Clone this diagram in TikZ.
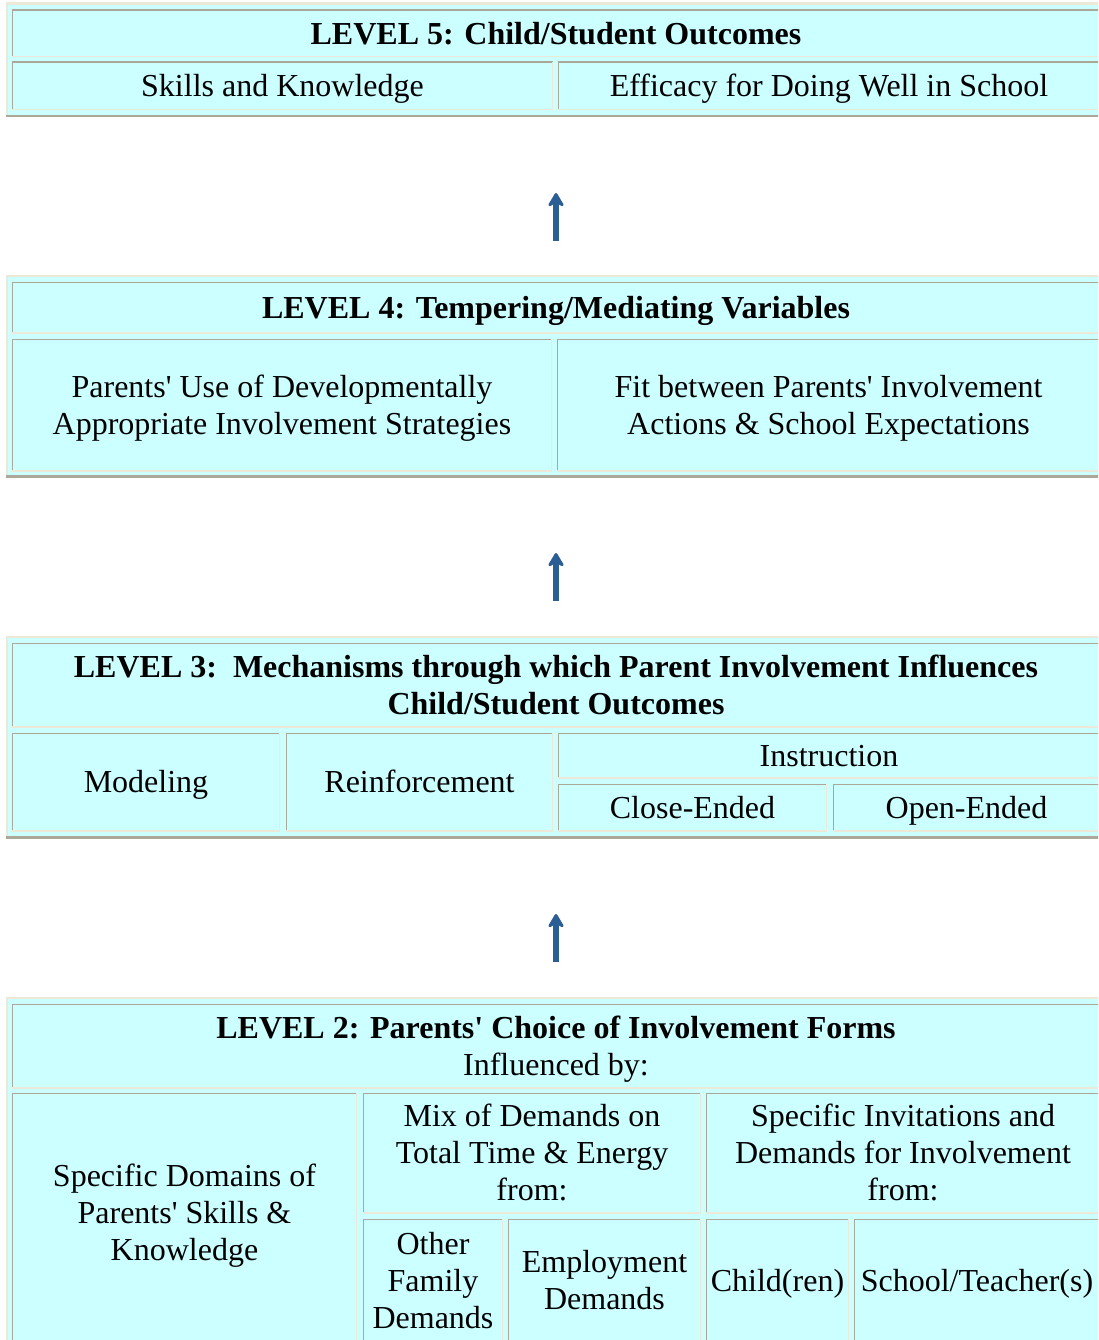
\documentclass[tikz,border=0pt]{standalone}
\usepackage{fontspec}
\setmainfont{Liberation Serif}[Ligatures=TeXOff]
\usetikzlibrary{arrows.meta}
\definecolor{cellfill}{HTML}{CCFFFF}
\definecolor{rimdark}{HTML}{ACA899}
\definecolor{rimlight}{HTML}{ECE9D8}
\definecolor{arrowblue}{RGB}{44,94,150}
\newcommand\linestrut{\rule[-7.6pt]{0pt}{36.8pt}}

\begin{document}
\begin{tikzpicture}[x=1pt, y=-1pt,
    font=\fontsize{32}{37}\selectfont,
    rim/.style n args={3}{fill=cellfill, inner sep=0pt, align=center,
      execute at begin node=\linestrut, execute at end node=\linestrut,
      path picture={
        \draw[line width=#3, #1] (path picture bounding box.south west) |- (path picture bounding box.north east);
        \draw[line width=#3, #2] (path picture bounding box.north east) |- (path picture bounding box.south west);
      }},
    wh/.style 2 args={minimum width=#1pt, minimum height=#2pt},
    tablebox/.style={rim={rimlight}{rimdark}{4pt}, minimum width=1100pt},
    cellbox/.style={rim={rimdark}{rimlight}{2pt}},
    headbox/.style={cellbox, font=\fontsize{32}{37}\selectfont\bfseries},
    uparrow/.style={draw=arrowblue, line width=6pt,
      -{Stealth[length=17pt, width=20pt, inset=6pt, round]}}]
  \clip (0,0) rectangle (1098,1340);

  % level 5
  \node [tablebox, minimum height=114pt] (lvfive) at (556,60) {};
  \node [headbox, wh={1088}{47}] (lvfivehead) at (556,33.5) {LEVEL 5: Child/Student Outcomes};
  \node [cellbox, wh={541}{48}] (skills) at (282.5,86) {Skills and Knowledge};
  \node [cellbox, wh={542}{48}] (efficacy) at (829,86) {Efficacy for Doing Well in School};

  % level 4
  \node [tablebox, minimum height=202pt] (lvfour) at (556,376) {};
  \node [headbox, wh={1088}{51}] (lvfourhead) at (556,307.5) {LEVEL 4: Tempering/Mediating Variables};
  \node [cellbox, wh={540}{132}] (strategies) at (282,405) {\linestrut Parents' Use of Developmentally\\Appropriate Involvement Strategies\linestrut};
  \node [cellbox, wh={543}{132}] (fit) at (828.5,405) {\linestrut Fit between Parents' Involvement\\Actions \& School Expectations\linestrut};

  % level 3
  \node [tablebox, minimum height=202pt] (lvthree) at (556,737) {};
  \node [headbox, wh={1088}{84}] (lvthreehead) at (556,685) {\linestrut LEVEL 3:\ \ Mechanisms through which Parent Involvement Influences\\Child/Student Outcomes\linestrut};
  \node [cellbox, wh={268}{98}] (modeling) at (146,782) {Modeling};
  \node [cellbox, wh={267}{98}] (reinforce) at (419.5,782) {Reinforcement};
  \node [cellbox, wh={542}{45}] (instruct) at (829,755.5) {Instruction};
  \node [cellbox, wh={269}{47}] (closeend) at (692.5,807.5) {Close-Ended};
  \node [cellbox, wh={267}{47}] (openend) at (966.5,807.5) {Open-Ended};

  % level 2
  \node [tablebox, minimum height=353pt] (lvtwo) at (556,1173.5) {};
  \node [headbox, wh={1088}{84}] (lvtwohead) at (556,1046) {\linestrut LEVEL 2: Parents' Choice of Involvement Forms\\\mdseries Influenced by:\linestrut};
  \node [cellbox, wh={345}{249}] (domains) at (184.5,1217.5) {\linestrut Specific Domains of\\Parents' Skills \&\\Knowledge\rule[-17.6pt]{0pt}{46.8pt}};
  \node [cellbox, wh={338}{120}] (mix) at (532,1153) {\linestrut Mix of Demands on\\Total Time \& Energy\\from:\linestrut};
  \node [cellbox, wh={394}{120}] (invites) at (903,1153) {\linestrut Specific Invitations and\\Demands for Involvement\\from:\linestrut};
  \node [cellbox, wh={140}{123}] (family) at (433,1280.5) {\linestrut Other\\Family\\Demands\linestrut};
  \node [cellbox, wh={193}{123}] (employ) at (604.5,1280.5) {\linestrut Employment\\Demands\linestrut};
  \node [cellbox, wh={143}{123}] (children) at (777.5,1280.5) {Child(ren)};
  \node [cellbox, wh={246}{123}] (school) at (977,1280.5) {School/Teacher(s)};

  % arrows between levels
  \coordinate (fourtail) at (556,241);
  \coordinate (fourtip) at (556,193);
  \coordinate (threetail) at (556,601);
  \coordinate (threetip) at (556,553);
  \coordinate (twotail) at (556,962);
  \coordinate (twotip) at (556,914);
  \draw [uparrow] (fourtail) -- (fourtip);
  \draw [uparrow] (threetail) -- (threetip);
  \draw [uparrow] (twotail) -- (twotip);
\end{tikzpicture}
\end{document}
